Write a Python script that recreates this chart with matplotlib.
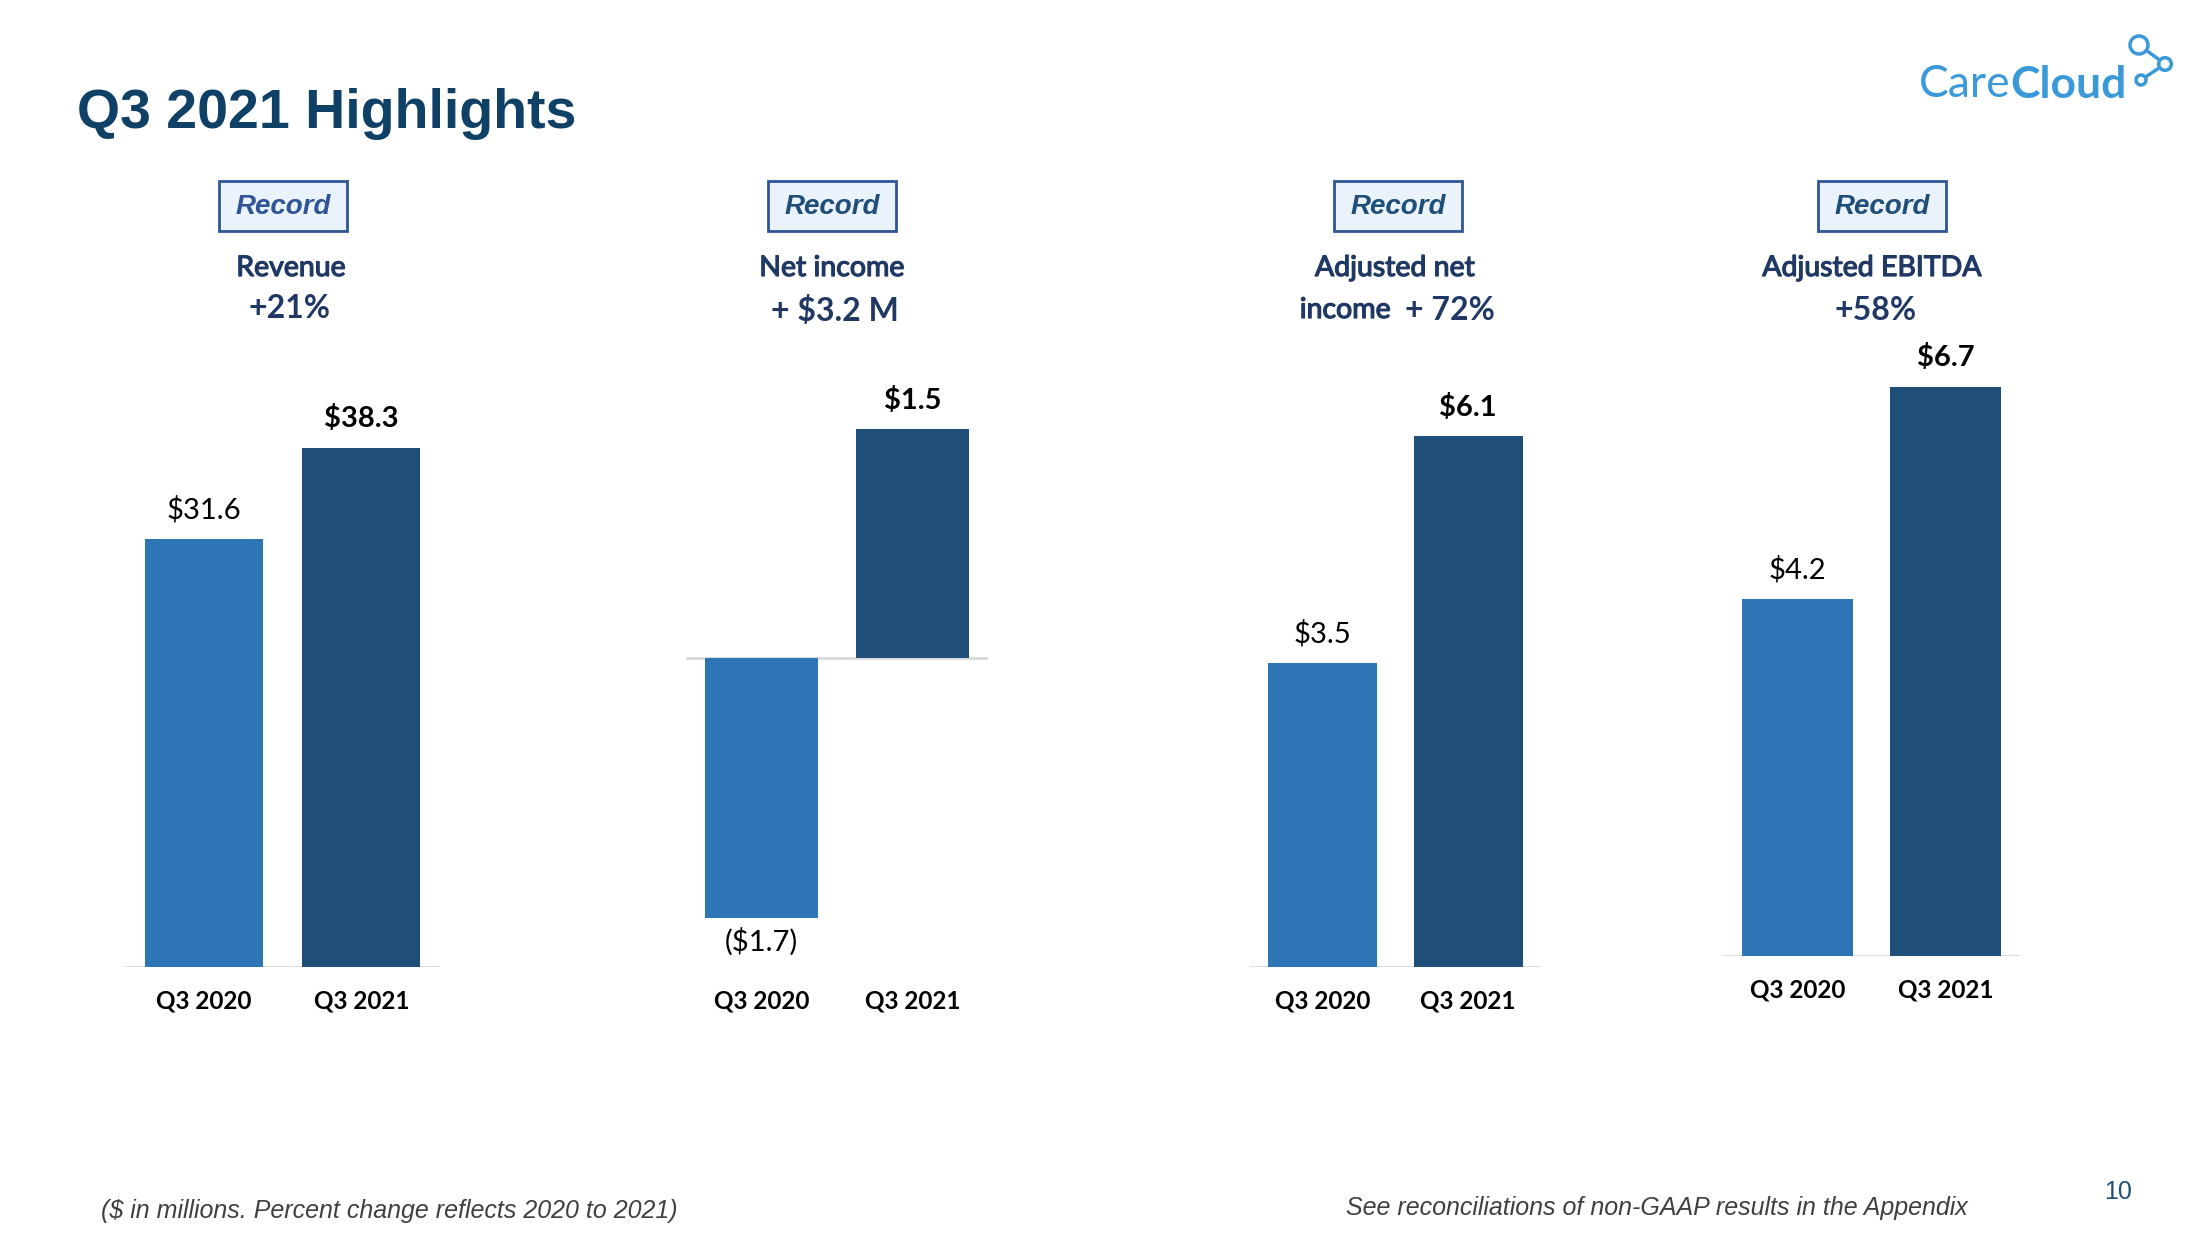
import matplotlib
matplotlib.use("Agg")
import matplotlib.pyplot as plt
import matplotlib.patheffects as pe
from matplotlib.patches import Rectangle, Circle

# ---------------- data ----------------
categories = ["Q3 2020", "Q3 2021"]
revenue = [31.6, 38.3]
net_income = [-1.7, 1.5]
adj_net_income = [3.5, 6.1]
adj_ebitda = [4.2, 6.7]

headline_1 = ["Revenue", "Net income", "Adjusted net", "Adjusted EBITDA"]
headline_2 = ["+21%", "+ $3.2 M", "+ 72%", "+58%"]

# ---------------- style ----------------
W, H = 2198, 1235
C_2020 = "#2e75b6"
C_2021 = "#1f4e79"
NAVY = "#1f3864"
LOGO = "#3a9ad9"
BODY = ["Lato", "DejaVu Sans"]
ARIAL = ["Liberation Sans", "DejaVu Sans"]
semi = [pe.withStroke(linewidth=0.9, foreground=NAVY)]

fig = plt.figure(figsize=(W / 100, H / 100), dpi=100)
fig.patch.set_facecolor("white")

# background axes in pixel coords for titles / boxes / logo
bg = fig.add_axes([0, 0, 1, 1])
bg.set_xlim(0, W)
bg.set_ylim(H, 0)
bg.axis("off")

bg.text(77, 128, "Q3 2021 Highlights", family=ARIAL, weight="bold", fontsize=40,
        color="#0f4066", ha="left", va="baseline")

# logo
t_care = bg.text(1919, 97, "Care", family=BODY, fontsize=32, color=LOGO,
                 ha="left", va="baseline")
bg.annotate("Cloud", xy=(1, 0), xycoords=t_care, family=BODY, fontsize=32,
            weight="bold", color=LOGO, ha="left", va="bottom")
bg.plot([2139, 2165, 2141], [45, 64, 80], color=LOGO, lw=2.5, zorder=1)
for cx, cy, r in [(2139, 45, 9), (2165, 64, 6.3), (2141, 80, 5)]:
    bg.add_patch(Circle((cx, cy), r, facecolor="white", edgecolor=LOGO, lw=2.5, zorder=2))

# "Record" boxes and headlines
box_x = [219, 768, 1334, 1818]
rec_colors = ["#2f5597", "#1f4e79", "#1f4e79", "#1f4e79"]
for i, x0 in enumerate(box_x):
    bg.add_patch(Rectangle((x0, 181), 128, 50, facecolor="#eaf3fb", edgecolor="#2f5597", lw=2))
    bg.text(x0 + 64, 207, "Record", family=ARIAL, weight="bold", style="italic",
            fontsize=20, color=rec_colors[i], ha="center", va="center")

head_x = [291, 832, 1395, 1872]
for i in range(4):
    bg.text(head_x[i], 268, headline_1[i], family=BODY, fontsize=20.5,
            color=NAVY, ha="center", va="center", path_effects=semi)
bg.text(290, 308, headline_2[0], family=BODY, fontsize=23, weight="bold", color=NAVY,
        ha="center", va="center")
bg.text(835, 311, headline_2[1], family=BODY, fontsize=23, weight="bold", color=NAVY,
        ha="center", va="center")
bg.text(1391, 310, "income", family=BODY, fontsize=20.5, color=NAVY,
        ha="right", va="center", path_effects=semi)
bg.text(1405, 310, headline_2[2], family=BODY, fontsize=23, weight="bold", color=NAVY,
        ha="left", va="center")
bg.text(1876, 310, headline_2[3], family=BODY, fontsize=23, weight="bold", color=NAVY,
        ha="center", va="center")

# footnotes
bg.text(101, 1211, "($ in millions. Percent change reflects 2020 to 2021)", family=ARIAL,
        style="italic", fontsize=18, color="#404040", ha="left", va="center")
bg.text(1968, 1208, "See reconciliations of non-GAAP results in the Appendix", family=ARIAL,
        style="italic", fontsize=18, color="#404040", ha="right", va="center")
bg.text(2118, 1192, "10", family=ARIAL, fontsize=18, color="#1f4e79", ha="center", va="center")


# ---------------- bar panels ----------------
def fmt(v):
    return "${:.1f}".format(v) if v >= 0 else "(${:.1f})".format(-v)


def panel(x0, x1, y_bot, y_top, ylim, values):
    ax = fig.add_axes([x0 / W, 1 - y_bot / H, (x1 - x0) / W, (y_bot - y_top) / H])
    ax.bar([0, 1], values, width=0.75, color=[C_2020, C_2021], zorder=2)
    ax.axhline(0, color="#d9d9d9", lw=2, zorder=1)
    ax.set_xlim(-0.5, 1.5)
    ax.set_ylim(*ylim)
    for s in ax.spines.values():
        s.set_visible(False)
    ax.set_yticks([])
    ax.set_xticks([0, 1])
    ax.set_xticklabels(categories, family=BODY, weight="bold", fontsize=17.5, color="black")
    ax.tick_params(axis="x", length=0, pad=16)
    ax.patch.set_alpha(0)
    for i, v in enumerate(values):
        off = 21 if v >= 0 else -17
        ax.annotate(fmt(v), xy=(i, v), xytext=(0, off), textcoords="offset points",
                    ha="center", va="center", family=BODY, fontsize=21,
                    weight="bold" if i == 1 else "normal", color="black")
    return ax


panel(125, 440, 967, 353, (0, 45.3), revenue)
panel(686, 988, 967, 353, (-2.02, 2.0), net_income)
panel(1250, 1541, 967, 353, (0, 7.06), adj_net_income)
panel(1723, 2020, 956, 353, (0, 7.10), adj_ebitda)

fig.savefig("out.png", dpi=100)
